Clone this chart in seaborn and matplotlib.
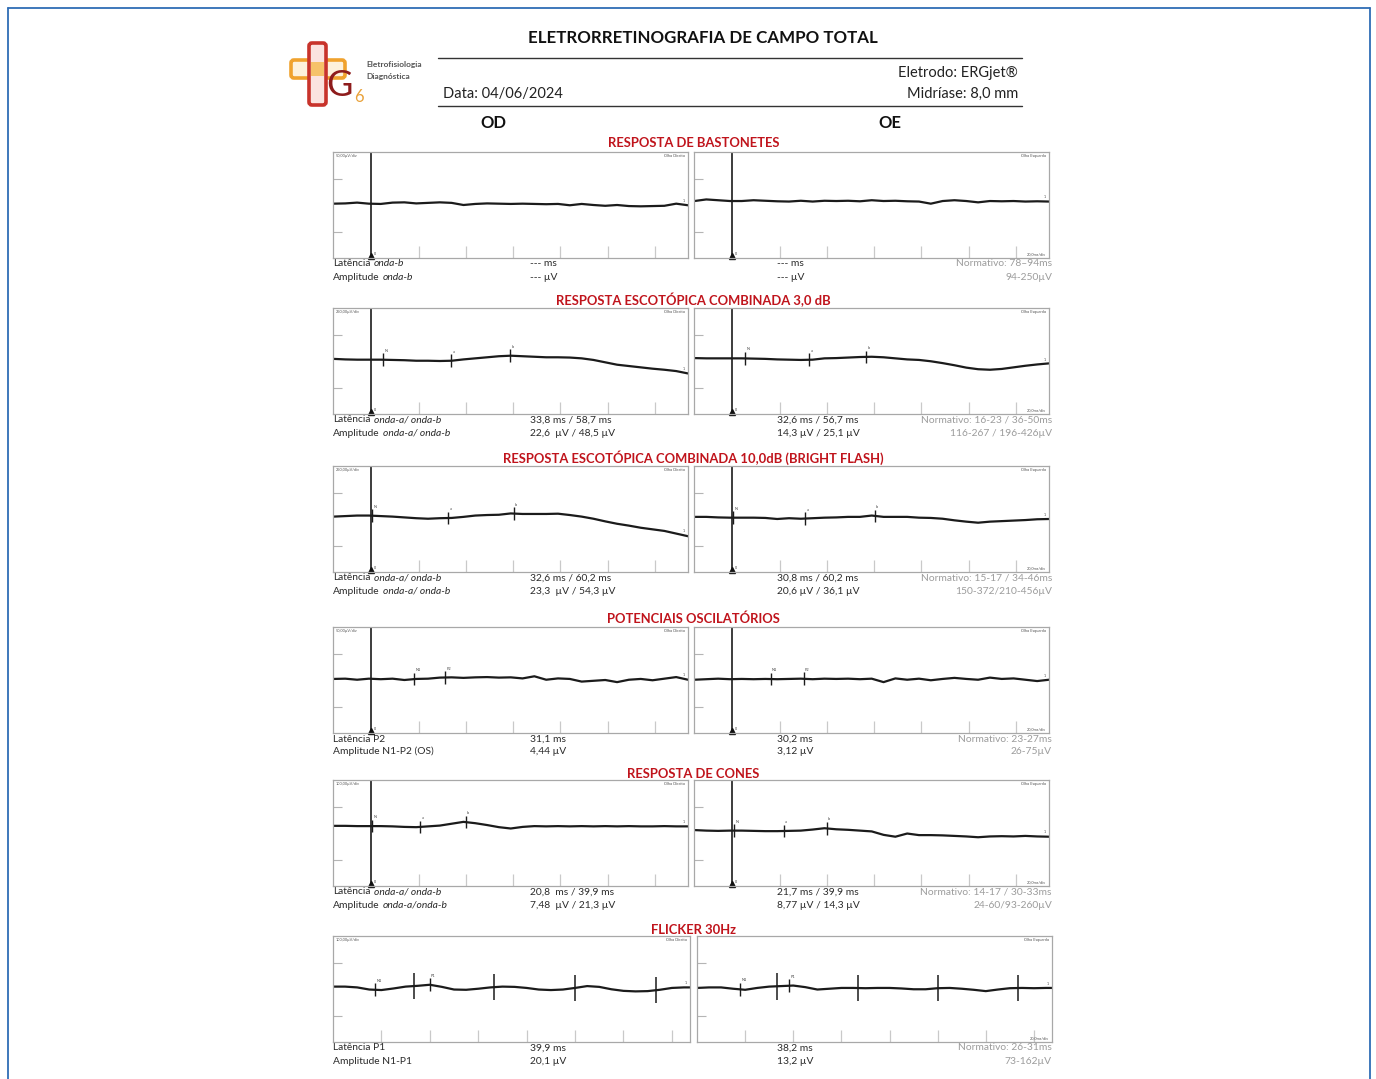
import numpy as np
import matplotlib
matplotlib.use("Agg")
import matplotlib.pyplot as plt
import seaborn as sns
from matplotlib.patches import FancyBboxPatch

W, H = 1376, 1079

# ------------------------------------------------------------------ data
# sample times (ms) of the digitised traces
t_std = list(np.arange(-16, 135, 5))      # flash responses
t_flk = list(np.arange(0, 151, 5))        # flicker 30 Hz

# traces, amplitude in divisions (4 divisions per panel height)
rods_od = [0.05, 0.06, 0.09, 0.05, 0.04, 0.09, 0.10, 0.06, 0.08, 0.10, 0.08, 0.00, 0.04, 0.06, 0.05, 0.04,
           0.05, 0.04, 0.03, 0.04, -0.01, 0.04, 0.00, -0.03, 0.00, -0.04, -0.05, -0.04, -0.03, 0.05, -0.01]
rods_oe = [0.15, 0.21, 0.18, 0.15, 0.15, 0.18, 0.16, 0.14, 0.13, 0.16, 0.13, 0.16, 0.15, 0.16, 0.14, 0.18,
           0.15, 0.16, 0.14, 0.13, 0.05, 0.15, 0.18, 0.15, 0.10, 0.15, 0.14, 0.15, 0.13, 0.14, 0.13]
scot3_od = [0.08, 0.06, 0.05, 0.05, 0.05, 0.04, 0.03, 0.01, 0.01, 0.00, 0.01, 0.06, 0.10, 0.14, 0.18, 0.20,
            0.18, 0.16, 0.14, 0.14, 0.13, 0.10, 0.04, -0.05, -0.14, -0.19, -0.24, -0.29, -0.33, -0.38, -0.47]
scot3_oe = [0.11, 0.10, 0.10, 0.10, 0.10, 0.09, 0.08, 0.06, 0.05, 0.04, 0.05, 0.10, 0.11, 0.13, 0.15, 0.16,
            0.14, 0.10, 0.06, 0.04, -0.01, -0.08, -0.16, -0.25, -0.31, -0.33, -0.30, -0.24, -0.18, -0.13, -0.09]
scot10_od = [0.09, 0.11, 0.13, 0.13, 0.11, 0.09, 0.06, 0.03, 0.01, 0.03, 0.04, 0.08, 0.13, 0.15, 0.16, 0.21,
             0.19, 0.19, 0.19, 0.20, 0.15, 0.09, 0.01, -0.09, -0.18, -0.25, -0.33, -0.39, -0.45, -0.55, -0.65]
scot10_oe = [0.08, 0.08, 0.06, 0.05, 0.05, 0.05, 0.04, 0.00, 0.03, 0.01, 0.03, 0.05, 0.06, 0.08, 0.08, 0.13,
             0.08, 0.08, 0.08, 0.05, 0.04, 0.01, -0.05, -0.10, -0.14, -0.10, -0.08, -0.06, -0.04, -0.01, 0.00]
ops_od = [0.04, 0.05, 0.01, 0.05, 0.03, 0.05, 0.00, 0.04, 0.05, 0.09, 0.10, 0.08, 0.10, 0.11, 0.09, 0.10,
          0.06, 0.14, 0.01, 0.06, 0.04, -0.06, -0.03, 0.00, -0.08, 0.01, 0.04, -0.01, 0.05, 0.11, 0.01]
ops_oe = [0.01, 0.03, 0.05, 0.03, 0.04, 0.03, 0.04, 0.03, 0.04, 0.05, 0.03, 0.05, 0.04, 0.05, 0.03, 0.05,
          -0.08, 0.06, 0.01, 0.05, -0.01, 0.04, 0.08, 0.04, 0.01, 0.09, 0.04, 0.06, 0.01, -0.04, 0.01]
cones_od = [0.27, 0.27, 0.26, 0.26, 0.26, 0.25, 0.23, 0.22, 0.25, 0.28, 0.35, 0.42, 0.37, 0.30, 0.22, 0.17,
            0.23, 0.26, 0.25, 0.26, 0.25, 0.26, 0.25, 0.26, 0.25, 0.26, 0.25, 0.25, 0.26, 0.25, 0.25]
cones_oe = [0.11, 0.09, 0.08, 0.09, 0.09, 0.08, 0.07, 0.07, 0.08, 0.09, 0.13, 0.18, 0.14, 0.12, 0.09, 0.06,
            -0.07, -0.14, -0.02, -0.08, -0.08, -0.09, -0.11, -0.13, -0.16, -0.13, -0.12, -0.13, -0.11, -0.13, -0.14]
flicker_od = [0.09, 0.09, 0.06, -0.02, -0.04, 0.02, 0.09, 0.12, 0.16, 0.08, -0.02, -0.03, 0.01, 0.06, 0.09, 0.08,
              0.04, -0.02, -0.04, -0.02, 0.04, 0.11, 0.08, -0.01, -0.07, -0.09, -0.08, -0.03, 0.04, 0.06, 0.06]
flicker_oe = [0.04, 0.06, 0.06, 0.01, -0.03, 0.04, 0.09, 0.11, 0.13, 0.07, -0.02, 0.01, 0.04, 0.04, 0.03, 0.04,
              0.04, 0.02, -0.01, -0.01, 0.03, 0.04, 0.01, -0.03, -0.08, -0.02, 0.03, 0.04, 0.03, 0.04, 0.04]

# marker latencies (ms)
mk_rods_od, mk_rods_oe = [], []
mk_scot3_od = [("N", 5.0), ("a", 33.8), ("b", 58.7)]
mk_scot3_oe = [("N", 5.4), ("a", 32.6), ("b", 56.7)]
mk_scot10_od = [("N", 0.5), ("a", 32.6), ("b", 60.2)]
mk_scot10_oe = [("N", 0.5), ("a", 30.8), ("b", 60.2)]
mk_ops_od = [("N1", 18.1), ("P2", 31.1)]
mk_ops_oe = [("N1", 16.2), ("P2", 30.2)]
mk_cones_od = [("N", 0.3), ("a", 20.8), ("b", 39.9)]
mk_cones_oe = [("N", 0.8), ("a", 21.7), ("b", 39.9)]
mk_flicker_od = [("N1", 17.4), ("P1", 39.9)]
mk_flicker_oe = [("N1", 18.0), ("P1", 38.2)]
flicker_stimuli = [33.3, 66.7, 100.0, 133.3]

section_titles = ["RESPOSTA DE BASTONETES",
                  "RESPOSTA ESCOTÓPICA COMBINADA 3,0 dB",
                  "RESPOSTA ESCOTÓPICA COMBINADA 10,0dB (BRIGHT FLASH)",
                  "POTENCIAIS OSCILATÓRIOS",
                  "RESPOSTA DE CONES",
                  "FLICKER 30Hz"]
scales = ["50,00µV/div", "250,00µV/div", "250,00µV/div", "50,00µV/div", "100,00µV/div", "100,00µV/div"]
lat_labels = [("Latência", "onda-b"), ("Latência", "onda-a/ onda-b"), ("Latência", "onda-a/ onda-b"),
              ("Latência P2", ""), ("Latência", "onda-a/ onda-b"), ("Latência P1", "")]
amp_labels = [("Amplitude", "onda-b"), ("Amplitude", "onda-a/ onda-b"), ("Amplitude", "onda-a/ onda-b"),
              ("Amplitude N1-P2 (OS)", ""), ("Amplitude", "onda-a/onda-b"), ("Amplitude N1-P1", "")]
od_lat = ["--- ms", "33,8 ms / 58,7 ms", "32,6 ms / 60,2 ms", "31,1 ms", "20,8  ms / 39,9 ms", "39,9 ms"]
od_amp = ["--- µV", "22,6  µV / 48,5 µV", "23,3  µV / 54,3 µV", "4,44 µV", "7,48  µV / 21,3 µV", "20,1 µV"]
oe_lat = ["--- ms", "32,6 ms / 56,7 ms", "30,8 ms / 60,2 ms", "30,2 ms", "21,7 ms / 39,9 ms", "38,2 ms"]
oe_amp = ["--- µV", "14,3 µV / 25,1 µV", "20,6 µV / 36,1 µV", "3,12 µV", "8,77 µV / 14,3 µV", "13,2 µV"]
norm_lat = ["Normativo: 78–94ms", "Normativo: 16-23 / 36-50ms", "Normativo: 15-17 / 34-46ms",
            "Normativo: 23-27ms", "Normativo: 14-17 / 30-33ms", "Normativo: 26-31ms"]
norm_amp = ["94-250µV", "116-267 / 196-426µV", "150-372/210-456µV", "26-75µV", "24-60/93-260µV", "73-162µV"]

traces_od = [rods_od, scot3_od, scot10_od, ops_od, cones_od, flicker_od]
traces_oe = [rods_oe, scot3_oe, scot10_oe, ops_oe, cones_oe, flicker_oe]
markers_od = [mk_rods_od, mk_scot3_od, mk_scot10_od, mk_ops_od, mk_cones_od, mk_flicker_od]
markers_oe = [mk_rods_oe, mk_scot3_oe, mk_scot10_oe, mk_ops_oe, mk_cones_oe, mk_flicker_oe]

# ------------------------------------------------------------------ layout (pixels)
row_top = [152, 308, 466, 627, 780, 936]
row_title_y = [143, 300, 458, 619, 774, 930]
PH = 106
od_x = [(333, 688)] * 5 + [(333, 690)]
oe_x = [(694, 1049)] * 5 + [(697, 1052)]

sns.set_theme(style="white")
plt.rcParams['font.family'] = ['Lato', 'DejaVu Sans']

fig = plt.figure(figsize=(W / 100, H / 100), dpi=100)
fig.patch.set_facecolor("white")
bg = fig.add_axes([0, 0, 1, 1])
bg.set_xlim(0, W)
bg.set_ylim(H, 0)
bg.axis("off")
renderer = fig.canvas.get_renderer()

# page border
blue = "#2f6db5"
bg.plot([8, 8], [8, H + 5], color=blue, lw=1.3, clip_on=False)
bg.plot([8, 1370], [8, 8], color=blue, lw=1.3)
bg.plot([1370, 1370], [8, H + 5], color=blue, lw=1.3, clip_on=False)

# logo
bg.add_patch(FancyBboxPatch((291, 60), 54, 18, boxstyle="round,pad=0,rounding_size=3",
                            fc="#fdf1dc", ec="#f0a22e", lw=2.6))
bg.add_patch(FancyBboxPatch((309, 43), 17, 62, boxstyle="round,pad=0,rounding_size=3",
                            fc="#fbe3df", ec="#c8332b", lw=2.6))
bg.add_patch(FancyBboxPatch((311, 62), 13, 14, boxstyle="square,pad=0", fc="#f6c26a", ec="none"))
bg.text(339, 85, "G", fontsize=26, color="#8e1c1c", ha="center", va="center")
bg.text(359, 97, "6", fontsize=12, color="#e9a23b", ha="center", va="center")
bg.text(366, 64, "Eletrofisiologia", fontsize=6, fontweight="bold", color="#555555", va="center")
bg.text(366, 76, "Diagnóstica", fontsize=6, fontweight="bold", color="#555555", va="center")

# header
bg.text(703, 38, "ELETRORRETINOGRAFIA DE CAMPO TOTAL", fontsize=12.2, fontweight="bold",
        ha="center", va="center", color="#111111")
bg.plot([438, 1022], [58, 58], color="#333333", lw=1.0)
bg.plot([438, 1022], [106, 106], color="#333333", lw=1.0)
bg.text(443, 94, "Data: 04/06/2024", fontsize=10.5, va="center", color="#222222")
bg.text(1018, 73, "Eletrodo: ERGjet®", fontsize=10.5, va="center", ha="right", color="#222222")
bg.text(1018, 94, "Midríase: 8,0 mm", fontsize=10.5, va="center", ha="right", color="#222222")
bg.text(493, 123, "OD", fontsize=12, fontweight="bold", va="center", ha="center", color="#111111")
bg.text(890, 123, "OE", fontsize=12, fontweight="bold", va="center", ha="center", color="#111111")

TXT = "#2a2a2a"
GREY = "#9c9c9c"
FS = 7.4


def label(x, y, normal, ital):
    t1 = bg.text(x, y, normal, fontsize=FS, va="baseline", ha="left", color=TXT)
    if ital:
        ext = t1.get_window_extent(renderer)
        bg.text(ext.x1 + 3, y, ital, fontsize=FS, style="italic", va="baseline", ha="left", color=TXT)


def panel(x0, x1, y0, t, v, flicker, markers, scale, eye, show_ms):
    ax = fig.add_axes([x0 / W, 1 - (y0 + PH) / H, (x1 - x0) / W, PH / H])
    sns.lineplot(x=t, y=v, ax=ax, color="#1b1b1b", lw=1.6)
    if flicker:
        xlim = (0, 147.5)
        ticks = list(np.arange(20, 147, 20))
    else:
        xlim = (-16.2, 134)
        ticks = list(np.arange(20, 134, 20))
    ax.set_xlim(*xlim)
    ax.set_ylim(-2, 2)
    ax.set_xticks([])
    ax.set_yticks([])
    ax.set_xlabel("")
    ax.set_ylabel("")
    ax.set_facecolor("white")
    for s in ax.spines.values():
        s.set_visible(True)
        s.set_color("#a8a8a8")
        s.set_linewidth(0.9)
    span = xlim[1] - xlim[0]
    ax.vlines(ticks, -2, -1.55, color="#c9c9c9", lw=0.9)
    ax.hlines([-1, 1], xlim[0], xlim[0] + span * 0.025, color="#b5b5b5", lw=0.8)
    if not flicker:
        ax.axvline(0, color="#1b1b1b", lw=1.2)
        ax.plot([0], [-1.93], marker="^", color="#111111", ms=5, clip_on=False)
        ax.text(1.2, -1.9, "0", fontsize=2.6, color="#333333")
    for name, tm in markers:
        yv = np.interp(tm, t, v)
        ax.vlines(tm, yv - 0.24, yv + 0.24, color="#1b1b1b", lw=1.0)
        ax.text(tm + 0.6, yv + 0.3, name, fontsize=2.8, color="#444444")
    if flicker:
        for tm in flicker_stimuli:
            yv = np.interp(tm, t, v)
            ax.vlines(tm, yv - 0.5, yv + 0.5, color="#1b1b1b", lw=1.1)
    yend = np.interp(xlim[1] - 1.5, t, v)
    ax.text(xlim[1] - 1.5, yend + 0.12, "1", fontsize=2.6, color="#444444", ha="right")
    ax.text(0.008, 0.985, scale, transform=ax.transAxes, fontsize=2.8, va="top", ha="left", color="#555555")
    ax.text(0.992, 0.985, eye, transform=ax.transAxes, fontsize=2.8, va="top", ha="right", color="#555555")
    if show_ms:
        ax.text(0.992, 0.015, "20,0ms/div", transform=ax.transAxes, fontsize=2.8, va="bottom",
                ha="right", color="#555555")
    return ax


for i in range(6):
    top = row_top[i]
    flk = (i == 5)
    tt = t_flk if flk else t_std
    bg.text(693.5, row_title_y[i], section_titles[i], fontsize=9.4, fontweight="bold", color="#c0141c",
            ha="center", va="center")
    panel(od_x[i][0], od_x[i][1], top, tt, traces_od[i], flk, markers_od[i], scales[i], "Olho Direito", False)
    panel(oe_x[i][0], oe_x[i][1], top, tt, traces_oe[i], flk, markers_oe[i], "", "Olho Esquerdo", True)
    y1 = top + PH + 8.5
    y2 = top + PH + 21.5
    label(333, y1, *lat_labels[i])
    label(333, y2, *amp_labels[i])
    bg.text(530, y1, od_lat[i], fontsize=FS, va="baseline", ha="left", color=TXT)
    bg.text(530, y2, od_amp[i], fontsize=FS, va="baseline", ha="left", color=TXT)
    bg.text(777, y1, oe_lat[i], fontsize=FS, va="baseline", ha="left", color=TXT)
    bg.text(777, y2, oe_amp[i], fontsize=FS, va="baseline", ha="left", color=TXT)
    bg.text(1052, y1, norm_lat[i], fontsize=FS, va="baseline", ha="right", color=GREY)
    bg.text(1052, y2, norm_amp[i], fontsize=FS, va="baseline", ha="right", color=GREY)

fig.savefig("out.png", dpi=100, facecolor="white")
